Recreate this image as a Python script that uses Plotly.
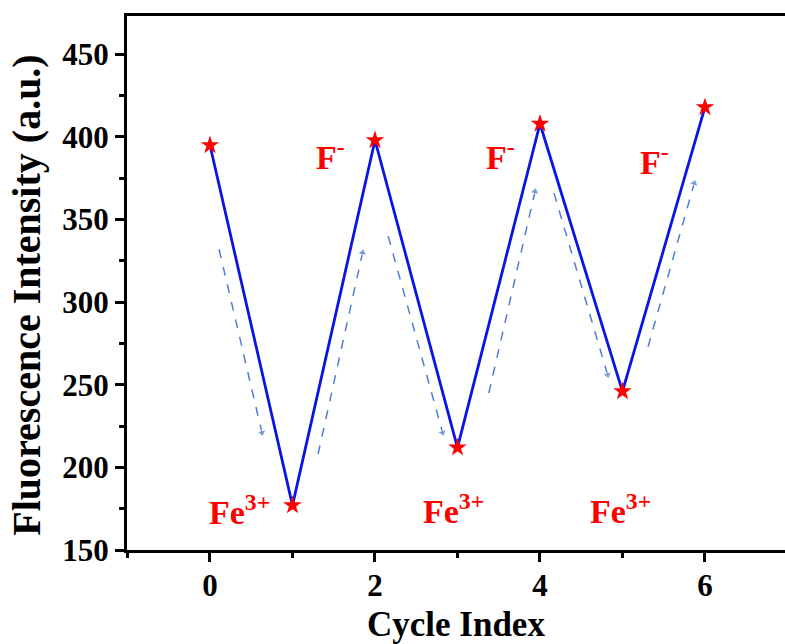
import plotly.graph_objects as go

# ---- data ----
cycle_index = [0, 1, 2, 3, 4, 5, 6]
intensity = [395, 177, 398, 212, 408, 246, 418]

# guide arrows (start -> end) in data coordinates
arrow_x0 = [0.11, 1.31, 2.16, 3.38, 4.17, 5.31]
arrow_y0 = [332, 208, 340, 245, 366, 273]
arrow_x1 = [0.63, 1.85, 2.82, 3.94, 4.82, 5.87]
arrow_y1 = [221, 330, 221, 367, 256, 372]

# ion labels
label_text = ["F<sup>-</sup>", "F<sup>-</sup>", "F<sup>-</sup>",
              "Fe<sup>3+</sup>", "Fe<sup>3+</sup>", "Fe<sup>3+</sup>"]
label_x = [1.46, 3.52, 5.39, 0.36, 2.95, 4.97]
label_y = [389, 389, 386, 174, 175, 175]

x_ticks = [0, 2, 4, 6]
y_ticks = [150, 200, 250, 300, 350, 400, 450]

FONT = "Liberation Serif, Times New Roman, serif"

fig = go.Figure()

for i in range(len(arrow_x0)):
    fig.add_trace(go.Scatter(
        x=[arrow_x0[i], arrow_x1[i]], y=[arrow_y0[i], arrow_y1[i]],
        mode="lines+markers",
        line=dict(color="#4f7fd0", width=1.5, dash="dash"),
        marker=dict(symbol=["circle", "triangle-up"], size=[0, 8],
                    angleref="previous", color="#4f7fd0"),
        showlegend=False, hoverinfo="skip"))

fig.add_trace(go.Scatter(
    x=cycle_index, y=intensity, mode="lines",
    line=dict(color="#0a14e6", width=2.8),
    showlegend=False))
fig.add_trace(go.Scatter(
    x=cycle_index, y=intensity, mode="markers",
    marker=dict(symbol="star", size=14, color="#ff0000", line=dict(width=0)),
    showlegend=False))

for t, xx, yy in zip(label_text, label_x, label_y):
    fig.add_annotation(x=xx, y=yy, xref="x", yref="y", text=t, showarrow=False,
                       font=dict(family=FONT, size=34, color="#ff0000", weight="bold"))

# axis titles placed as annotations for exact positioning
fig.add_annotation(x=-0.152, y=0.478, xref="paper", yref="paper",
                   xanchor="center", yanchor="middle", textangle=-90, showarrow=False,
                   text="Fluorescence Intensity (a.u.)",
                   font=dict(family=FONT, size=40, color="black", weight="bold"))
fig.add_annotation(x=0.50, y=-0.140, xref="paper", yref="paper",
                   xanchor="center", yanchor="middle", showarrow=False,
                   text="Cycle Index",
                   font=dict(family=FONT, size=35, color="black", weight="bold"))

fig.update_layout(
    width=785, height=644,
    margin=dict(l=127, r=0, t=16, b=94, autoexpand=False),
    paper_bgcolor="white", plot_bgcolor="white",
    font=dict(family=FONT, color="black"),
)
fig.update_xaxes(
    range=[-1.006, 6.97], tickvals=x_ticks, ticktext=[str(v) for v in x_ticks],
    showgrid=False, zeroline=False,
    showline=True, linecolor="black", linewidth=3, mirror=True,
    ticks="outside", ticklen=9, tickwidth=3, tickcolor="black",
    minor=dict(dtick=1, tick0=0, ticks="outside", ticklen=5, tickwidth=3, tickcolor="black"),
    tickfont=dict(family=FONT, size=31, weight="bold"),
    ticklabelstandoff=-3,
)
fig.update_yaxes(
    range=[150, 473.2], tickvals=y_ticks, ticktext=[str(v) for v in y_ticks],
    showgrid=False, zeroline=False,
    showline=True, linecolor="black", linewidth=3,
    ticks="outside", ticklen=9, tickwidth=3, tickcolor="black",
    minor=dict(dtick=25, tick0=150, ticks="outside", ticklen=5, tickwidth=3, tickcolor="black"),
    tickfont=dict(family=FONT, size=31, weight="bold"),
)

fig.write_html("out.html", config={"displayModeBar": False},
               post_script="document.body.style.margin='0';document.body.style.overflow='hidden';")
